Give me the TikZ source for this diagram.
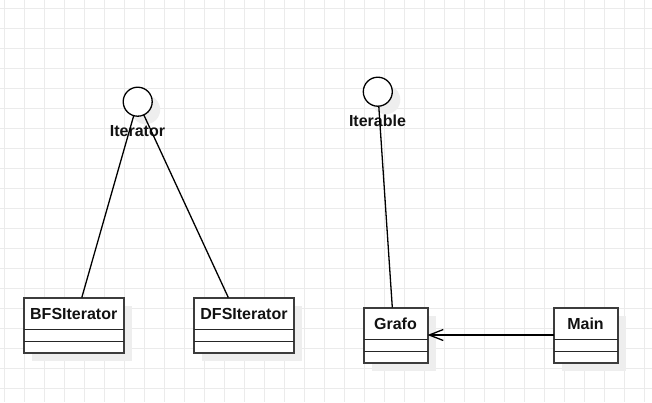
\documentclass[tikz,border=0pt]{standalone}
\usepackage{fontspec}
\setmainfont{Liberation Sans}
\usetikzlibrary{shadows,arrows.meta,calc}
\definecolor{gridc}{HTML}{EBEBEB}
\definecolor{shadowc}{HTML}{EEEEEE}
\definecolor{borderc}{HTML}{3C3C3C}
\newcommand{\umlcls}[5]{%
  \node[umlbox, minimum width=#4pt] (#1) at (#2,#3) {};
  \node[lbl, anchor=base] (#1T) at ($(#1.north)+(0,21.7)$) {#5};
  \draw[divline] ($(#1.north west)+(0,32)$) -- ($(#1.north east)+(0,32)$);
  \draw[divline] ($(#1.north west)+(0,44)$) -- ($(#1.north east)+(0,44)$);
}
\begin{document}
\begin{tikzpicture}[x=1pt,y=-1pt,
  lbl/.style={font=\bfseries\fontsize{16}{19}\selectfont, inner sep=0pt, text=black!93},
  myshadow/.style={drop shadow={shadow xshift=8pt, shadow yshift=-8pt, fill=shadowc, opacity=1}},
  umlbox/.style={draw=borderc, line width=2pt, fill=white, myshadow, inner sep=0pt, outer sep=0pt, minimum height=55pt},
  divline/.style={draw=black!85, line width=1.3pt},
  iface/.style={circle, draw=black, line width=1.3pt, fill=white, myshadow, minimum size=29pt, inner sep=0pt, outer sep=0pt},
  conn/.style={draw=black, line width=1.3pt},
]
\useasboundingbox (0,0) rectangle (652,402);
\fill[white] (0,0) rectangle (652,402);
\foreach \x in {4,24,...,644} \draw[gridc, line width=1pt] (\x,0) -- (\x,402);
\foreach \y in {8,28,...,400} \draw[gridc, line width=1pt] (0,\y) -- (652,\y);

% interfaces
\node[iface] (iter) at (137.7,101.7) {};
\node[lbl, anchor=base] (iterL) at (137.5,136.7) {Iterator};
\node[iface] (itbl) at (377.8,91.7) {};
\node[lbl, anchor=base] (itblL) at (377.5,126.7) {Iterable};

% classes
\umlcls{bfs}{73.75}{325}{100.5}{BFSIterator}
\umlcls{dfs}{244}{325}{100}{DFSIterator}
\umlcls{grafo}{395.5}{335}{64}{Grafo}
\umlcls{main}{585.5}{335}{64}{Main}

% connectors
\draw[conn] (iter) -- ($(bfs.north west)!0.58!(bfs.north east)$);
\draw[conn] (iter) -- ($(dfs.north west)!0.343!(dfs.north east)$);
\draw[conn] (itbl) -- ($(grafo.north west)!0.45!(grafo.north east)$);
\draw[conn, -{Straight Barb[length=14pt, width=11pt, line width=1.3pt]}] (main.west) -- (grafo.east);
\end{tikzpicture}
\end{document}
